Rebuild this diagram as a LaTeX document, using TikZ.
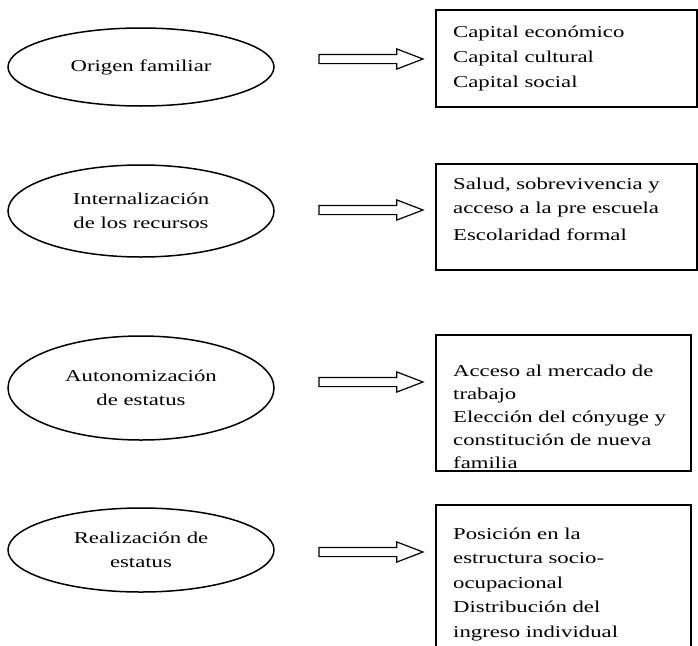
\documentclass[tikz,border=0pt]{standalone}
\usepackage{fontspec}
\setmainfont{Liberation Serif}[FakeStretch=1.37]
\usetikzlibrary{shapes.geometric,shapes.arrows,positioning}

\begin{document}
\begin{tikzpicture}[x=1pt,y=-1pt,
  etapa/.style={draw, ellipse, line width=1.5pt, minimum width=266pt, inner sep=0pt, align=center, font=\fontsize{16.6}{24}\selectfont},
  caja/.style={draw, rectangle, line width=1.7pt, anchor=north west, inner sep=0pt},
  lista/.style={anchor=north west, inner sep=0pt, align=left, font=\fontsize{16.6}{24}\selectfont},
  flecha/.style={draw, single arrow, line width=1.2pt, fill=white, minimum height=104pt, inner xsep=0pt, inner ysep=4pt, single arrow head extend=5.5pt, single arrow tip angle=42}]
\useasboundingbox (0,0) rectangle (698,645);
\node[etapa, minimum height=78pt] (origen) at (141,67) {Origen familiar};
\node[etapa, minimum height=92pt] (interna) at (141,211) {Internalización\\de los recursos};
\node[etapa, minimum height=104pt] (autonom) at (141,388) {Autonomización\\de estatus};
\node[etapa, minimum height=84pt] (realiza) at (141,550) {Realización de\\estatus};
\node[flecha] (f1) at (365,59) {};
\node[flecha] (f2) at (365,210) {};
\node[flecha] (f3) at (365,382) {};
\node[flecha] (f4) at (365,552) {};
\node[caja, minimum width=261pt, minimum height=97pt] (capital) at (435,9) {};
\node[caja, minimum width=261pt, minimum height=106pt] (recursos) at (435,163) {};
\node[caja, minimum width=255pt, minimum height=136pt] (trabajo) at (435,334) {};
\node[caja, minimum width=255pt, minimum height=170pt] (posicion) at (435,504) {};
\node[lista, below right=16.5pt and 18pt of capital.north west] {Capital económico\\[1pt]Capital cultural\\[1pt]Capital social};
\node[lista, below right=14.5pt and 18pt of recursos.north west] {Salud, sobrevivencia y\\acceso a la pre escuela\\[3pt]Escolaridad formal};
\node[lista, font=\fontsize{16.6}{23}\selectfont, below right=30.5pt and 18pt of trabajo.north west] {Acceso al mercado de\\trabajo\\Elección del cónyuge y\\constitución de nueva\\familia};
\node[lista, font=\fontsize{16.6}{24.5}\selectfont, below right=23.5pt and 18pt of posicion.north west] {Posición en la\\estructura socio-\\ocupacional\\Distribución del\\ingreso individual};
\end{tikzpicture}
\end{document}
